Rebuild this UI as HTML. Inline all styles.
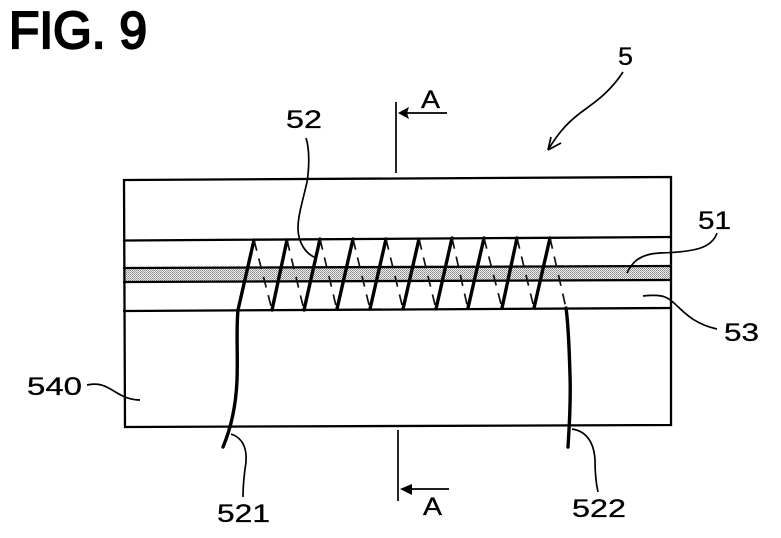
<!DOCTYPE html>
<html><head><meta charset="utf-8"><style>
html,body{margin:0;padding:0;background:#fff;width:781px;height:538px;overflow:hidden}
svg{display:block}
text{font-family:"Liberation Sans",sans-serif;fill:#000}
</style></head><body>
<svg width="781" height="538" viewBox="0 0 781 538" xmlns="http://www.w3.org/2000/svg">
<defs>
<pattern id="d" width="2" height="2" patternUnits="userSpaceOnUse"><rect width="2" height="2" fill="#f0f0f0"/><rect width="1" height="1" fill="#888"/><rect x="1" y="1" width="1" height="1" fill="#a0a0a0"/></pattern>
</defs>
<text x="9" y="48" font-size="52" stroke="#000" stroke-width="2.200" textLength="138" lengthAdjust="spacingAndGlyphs">FIG. 9</text>
<polygon points="124,268 671,266 671,280 124,282" fill="url(#d)"/>
<g fill="none" stroke="#000" stroke-width="2.300" stroke-linecap="round">
<path d="M124,180 L671,177 L671,425 L125,427 Z"/>
<path d="M124,240.500 L671,237"/>
<path d="M124,311 L671,308"/>
<path d="M124,268 L671,266"/>
<path d="M124,282 L671,280"/>
</g>
<g stroke="#000" stroke-width="3.400" fill="none" stroke-linecap="round">
<path d="M254,240 L238,310"/><path d="M287,240 L272,310"/><path d="M320,239 L304,310"/><path d="M353,239 L337,309"/><path d="M386,239 L370,309"/><path d="M419,239 L403,309"/><path d="M452,238 L436,309"/><path d="M484,238 L468,308"/><path d="M517,238 L502,308"/><path d="M550,238 L534,308"/>
<path d="M238,310 C236,330 238,355 237,380 C236,405 231,428 223,447"/>
<path d="M566,308 C568,322 569,340 570,375 C571,405 569,430 568,447"/>
</g>
<g stroke="#111" stroke-width="1.700" fill="none" stroke-dasharray="11 8">
<path d="M254,240 L272,310"/><path d="M287,240 L304,310"/><path d="M320,239 L337,310"/><path d="M353,239 L370,309"/><path d="M386,239 L403,309"/><path d="M419,239 L436,309"/><path d="M452,238 L468,309"/><path d="M484,238 L502,308"/><path d="M517,238 L534,308"/><path d="M550,238 L566,308"/>
</g>
<g stroke="#000" stroke-width="1.700" fill="none">
<path d="M396,102 V173"/><path d="M398,430 V501"/>
<path d="M400,113 H447"/><path d="M402,489 H449"/>
<path d="M306,138 C310,150 309,170 307,182 C303,200 298,215 298,228 C298,243 306,254 316,258"/>
<path d="M623,72 C610,92 595,102 587,108 C570,120 560,130 548,150"/>
<path d="M548,150 L551,137 M548,150 L561,143"/>
<path d="M717,233 C712,248 695,252 660,253 C640,254 632,262 627,273"/>
<path d="M643,296 C650,295 660,295 665,297 C678,302 685,322 717,329"/>
<path d="M87,385 C105,381 112,392 125,397 C130,399 135,400 140,400"/>
<path d="M231,434 C243,438 247,448 246,462 C244,475 243,485 243,497"/>
<path d="M572,429 C586,431 594,442 595,460 C595,475 596,483 598,492"/>
</g>
<polygon points="398,113 409,107 407,113 409,119" fill="#000"/>
<polygon points="400,489 412,484 412,495" fill="#000"/>
<g font-size="25" stroke="#000" stroke-width="0.300">
<text x="618" y="65" textLength="15" lengthAdjust="spacingAndGlyphs">5</text>
<text x="421" y="108" textLength="19" lengthAdjust="spacingAndGlyphs">A</text>
<text x="286" y="128" textLength="36" lengthAdjust="spacingAndGlyphs">52</text>
<text x="698" y="229" textLength="33" lengthAdjust="spacingAndGlyphs">51</text>
<text x="724" y="341" textLength="35" lengthAdjust="spacingAndGlyphs">53</text>
<text x="27" y="395" textLength="55" lengthAdjust="spacingAndGlyphs">540</text>
<text x="217" y="522" textLength="53" lengthAdjust="spacingAndGlyphs">521</text>
<text x="572" y="517" textLength="54" lengthAdjust="spacingAndGlyphs">522</text>
<text x="423" y="515" textLength="19" lengthAdjust="spacingAndGlyphs">A</text>
</g>
</svg>
</body></html>
